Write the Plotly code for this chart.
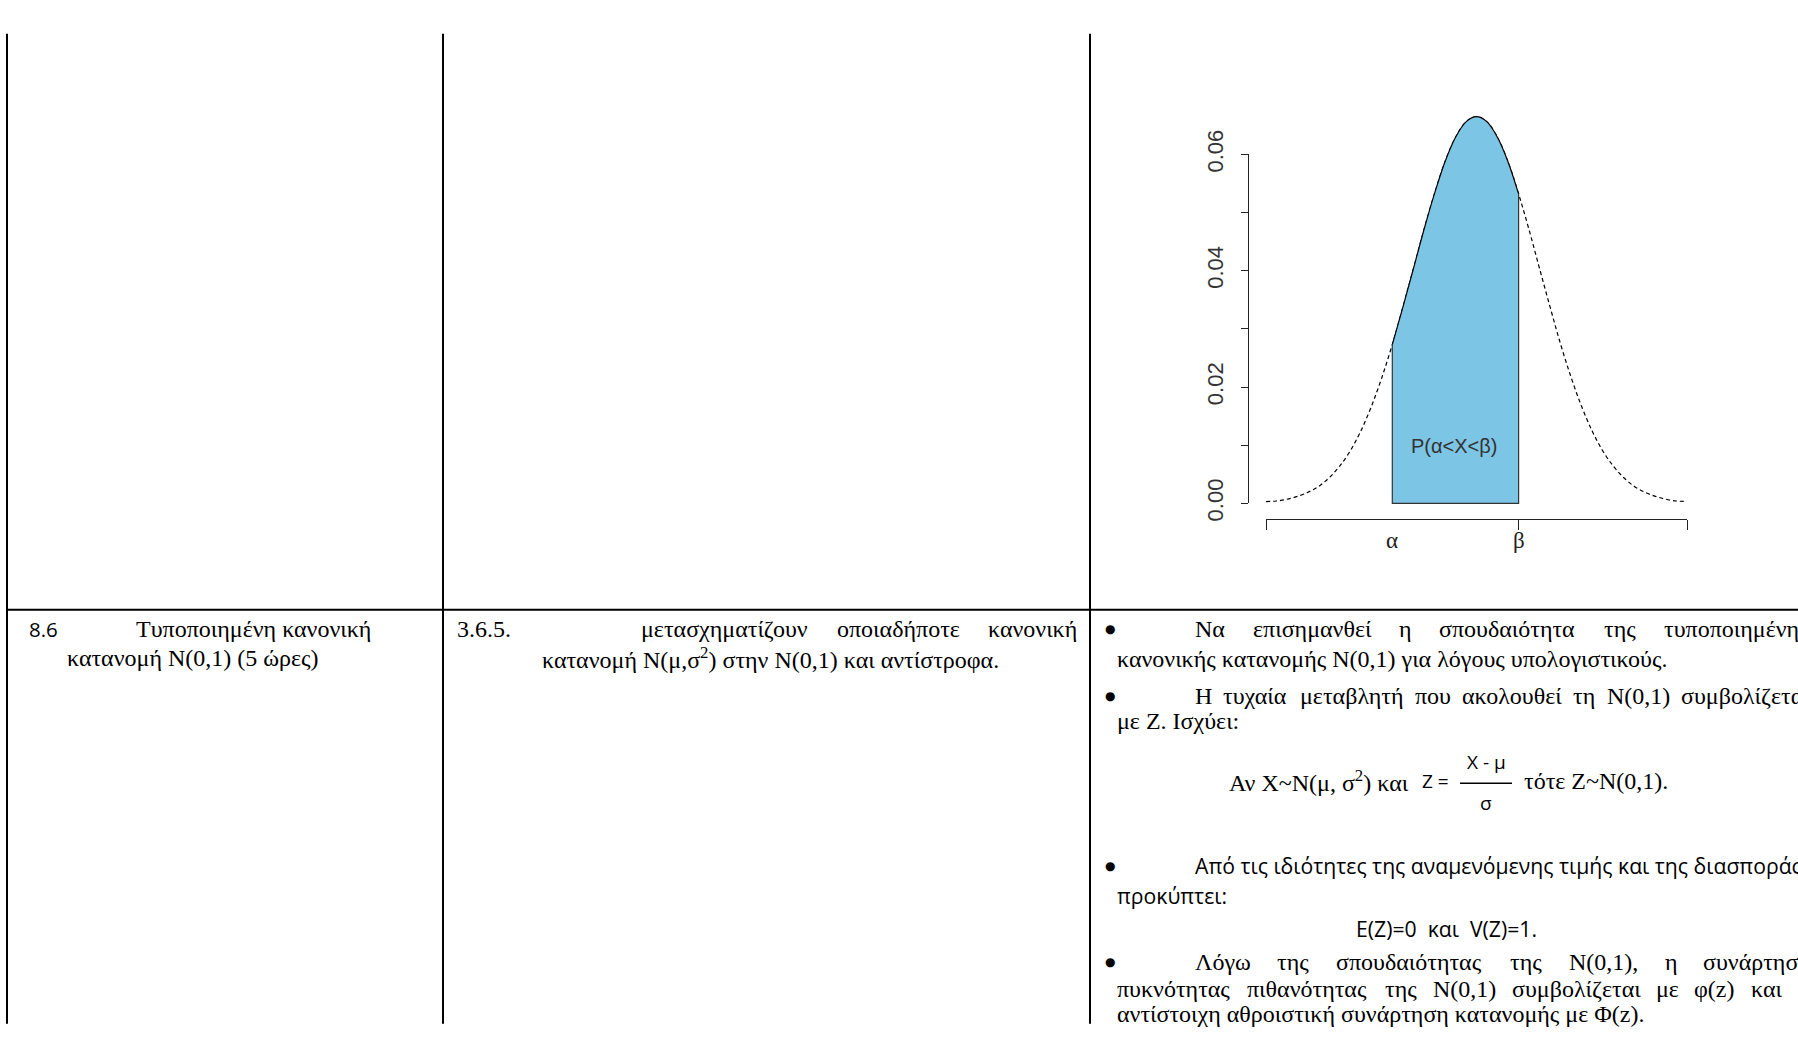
import plotly.graph_objects as go

W, H = 1798, 1037

# ---------------- data ----------------
X_VALS = list(range(-20, 21))
DENSITY = [0.0003, 0.0004, 0.0007, 0.0012, 0.0019, 0.0029, 0.0044, 0.0064, 0.0090, 0.0124,
           0.0166, 0.0216, 0.0273, 0.0337, 0.0403, 0.0470, 0.0532, 0.0587, 0.0629, 0.0656,
           0.0665,
           0.0656, 0.0629, 0.0587, 0.0532, 0.0470, 0.0403, 0.0337, 0.0273, 0.0216, 0.0166,
           0.0124, 0.0090, 0.0064, 0.0044, 0.0029, 0.0019, 0.0012, 0.0007, 0.0004, 0.0003]
ALPHA = -8
BETA = 4
Y_LABEL_TICKS = [0.00, 0.02, 0.04, 0.06]
Y_TICK_LABELS = ["0.00", "0.02", "0.04", "0.06"]
Y_MINOR_STEP = 0.01
X_TICKS = [-20, BETA, 20]
AREA_LABEL = "P(α<X<β)"
AREA_LABEL_POS = (-2.1, 0.0098)

# ---------------- geometry ----------------
X_L, X_R = 1266, 1687        # pixel of x=-20 and x=20
Y0, Y6 = 499, 135            # pixel of y=0 and y=0.06
PPU_X = (X_R - X_L) / 40.0
PPU_Y = (Y0 - Y6) / 0.06

def fx(p):
    return p / W

def fy(p):
    return 1 - p / H

SERIF = "Liberation Serif"
SANS = "Open Sans"
RSANS = "Liberation Sans"
SKY = "#7DC5E5"

fig = go.Figure()

fig.add_trace(go.Scatter(x=X_VALS, y=DENSITY, mode="lines",
                         line=dict(color="black", width=1.2, dash="4px,3px", shape="spline"),
                         hoverinfo="skip", showlegend=False))
sx = [x for x in X_VALS if ALPHA <= x <= BETA]
sy = [d for x, d in zip(X_VALS, DENSITY) if ALPHA <= x <= BETA]
fig.add_trace(go.Scatter(x=sx, y=sy, mode="lines", fill="tozeroy", fillcolor=SKY,
                         line=dict(color="black", width=1.2, shape="spline"),
                         hoverinfo="skip", showlegend=False))
fig.add_trace(go.Scatter(x=[ALPHA, ALPHA, BETA, BETA], y=[sy[0], 0, 0, sy[-1]], mode="lines",
                         line=dict(color="#333", width=1.2),
                         hoverinfo="skip", showlegend=False))
fig.add_trace(go.Scatter(x=[None], y=[None], xaxis="x2", yaxis="y2", showlegend=False, hoverinfo="skip"))

pad_x = 10 / PPU_X
fig.update_layout(
    width=W, height=H, margin=dict(l=0, r=0, t=0, b=0),
    paper_bgcolor="white", plot_bgcolor="rgba(0,0,0,0)",
    showlegend=False,
    xaxis=dict(domain=[fx(X_L - 10), fx(X_R + 10)], range=[-20 - pad_x, 20 + pad_x],
               visible=False, fixedrange=True),
    yaxis=dict(domain=[fy(Y0 + 7), fy(80)], range=[-7 / PPU_Y, (Y0 - 80) / PPU_Y],
               visible=False, fixedrange=True),
    xaxis2=dict(domain=[fx(X_L), fx(X_R)], range=[-20, 20], anchor="free", position=fy(515),
                showline=True, linecolor="#222", linewidth=1.2, ticks="outside", ticklen=10,
                tickwidth=1.2, tickcolor="#222", tickvals=X_TICKS, showticklabels=False,
                showgrid=False, zeroline=False, fixedrange=True),
    yaxis2=dict(domain=[fy(Y0), fy(Y6)], range=[0, 0.06], anchor="free", position=fx(1248),
                showline=True, linecolor="#222", linewidth=1.2, ticks="outside", ticklen=7,
                tickwidth=1.2, tickcolor="#222", tickvals=Y_LABEL_TICKS, ticktext=Y_TICK_LABELS,
                minor=dict(ticks="outside", ticklen=7, tickwidth=1.2, tickcolor="#222",
                           dtick=Y_MINOR_STEP, tick0=0, showgrid=False),
                tickangle=-90, tickfont=dict(family=RSANS, size=22, color="#333"),
                ticklabelstandoff=9,
                showgrid=False, zeroline=False, fixedrange=True),
)

annotations = []

def txt(s, x, y, family=SERIF, size=24, anchor="left", color="black"):
    annotations.append(dict(text=s, x=fx(x), y=fy(y), xref="paper", yref="paper",
                            xanchor=anchor, yanchor="middle", showarrow=False,
                            font=dict(family=family, size=size, color=color)))

# approximate advance widths (em) of Times-metric serif glyphs
WID = {
    "α": .540, "ά": .540, "β": .502, "γ": .443, "δ": .494, "ε": .425, "έ": .425, "ζ": .430,
    "η": .502, "ή": .502, "θ": .494, "ι": .271, "ί": .271, "κ": .502, "λ": .474, "μ": .533,
    "ν": .459, "ξ": .445, "ο": .500, "ό": .500, "π": .535, "ρ": .500, "σ": .527, "ς": .425,
    "τ": .427, "υ": .481, "ύ": .481, "φ": .635, "χ": .471, "ψ": .654, "ω": .684, "ώ": .684,
    "Λ": .700, "Ν": .722, "Η": .722, "N": .722, "(": .333, ")": .333, ",": .250, ".": .250,
    "0": .5, "1": .5, "z": .444,
}

def wlen(word, size=24):
    return sum(WID.get(c, .5) for c in word) * size

def justify(words, x0, x1, y, size=24):
    widths = [wlen(w, size) for w in words]
    gap = (x1 - x0 - sum(widths)) / (len(words) - 1)
    x = x0
    for w, wd in zip(words, widths):
        txt(w, x, y, SERIF, size)
        x += wd + gap

# chart labels
annotations.append(dict(text=AREA_LABEL, x=AREA_LABEL_POS[0], y=AREA_LABEL_POS[1], xref="x", yref="y",
                        showarrow=False, font=dict(family=RSANS, size=20, color="#333")))
annotations.append(dict(text="α", x=ALPHA, y=fy(523), xref="x2", yref="paper", yanchor="top",
                        showarrow=False, font=dict(family=SERIF, size=23, color="#222")))
annotations.append(dict(text="β", x=BETA, y=fy(523), xref="x2", yref="paper", yanchor="top",
                        showarrow=False, font=dict(family=SERIF, size=23, color="#222")))

# ---------------- table text ----------------
L1, L2 = 630, 660
RIGHT3 = 1808
# column 1
txt("8.6", 27, L1, SANS, 20.5)
txt("Τυποποιημένη κανονική", 134, L1)
txt("κατανομή N(0,1) (5 ώρες)", 65, L2)
# column 2
txt("3.6.5.", 455, L1)
justify(["μετασχηματίζουν", "οποιαδήποτε", "κανονική"], 639, 1076, L1)
txt("κατανομή N(μ,σ<sup>2</sup>) στην N(0,1) και αντίστροφα.", 540, L2)

# column 3
BUL = 1110
for y in [630, 700, 877, 978]:
    txt("●", BUL, y, "DejaVu Sans", 12, anchor="center")
justify(["Να", "επισημανθεί", "η", "σπουδαιότητα", "της", "τυποποιημένης"], 1193, RIGHT3, 630)
txt("κανονικής κατανομής N(0,1) για λόγους υπολογιστικούς.", 1115, 661)
justify(["Η", "τυχαία", "μεταβλητή", "που", "ακολουθεί", "τη", "N(0,1)", "συμβολίζεται"], 1193, RIGHT3, 700)
txt("με Ζ. Ισχύει:", 1115, 726)
# formula (centred equation)
txt("Αν X~N(μ, σ<sup>2</sup>) και", 1227, 789)
txt("Z =", 1420, 789, SANS, 19)
txt("X - μ", 1486, 769, SANS, 19, anchor="center")
txt("σ", 1486, 812, SANS, 19, anchor="center")
txt("τότε Z~N(0,1).", 1522, 789)

txt("Από τις ιδιότητες της αναμενόμενης τιμής και της διασποράς", 1193, 877, SANS, 21.2)
txt("προκύπτει:", 1115, 908, SANS, 21.2)
txt("E(Z)=0  και  V(Z)=1.", 1446, 943, SANS, 21.2, anchor="center")
justify(["Λόγω", "της", "σπουδαιότητας", "της", "N(0,1),", "η", "συνάρτηση"], 1193, RIGHT3, 978)
justify(["πυκνότητας", "πιθανότητας", "της", "N(0,1)", "συμβολίζεται", "με", "φ(z)", "και", "η"],
        1115, RIGHT3, 1006)
txt("αντίστοιχη αθροιστική συνάρτηση κατανομής με Φ(z).", 1115, 1032)

fig.update_layout(annotations=annotations)

# ---------------- table lines ----------------
shapes = []
for x in [7, 443, 1090]:
    shapes.append(dict(type="line", xref="paper", yref="paper", x0=fx(x), x1=fx(x), y0=fy(9), y1=fy(H + 5),
                       line=dict(color="black", width=2)))
shapes.append(dict(type="line", xref="paper", yref="paper", x0=fx(6), x1=fx(W + 5), y0=fy(610), y1=fy(610),
                   line=dict(color="black", width=2)))
shapes.append(dict(type="line", xref="paper", yref="paper", x0=fx(1460), x1=fx(1512), y0=fy(791), y1=fy(791),
                   line=dict(color="black", width=1.5)))
fig.update_layout(shapes=shapes)

fig.write_html("out.html", config={"displayModeBar": False},
               post_script="document.body.style.margin='0';document.body.style.overflow='hidden';")
